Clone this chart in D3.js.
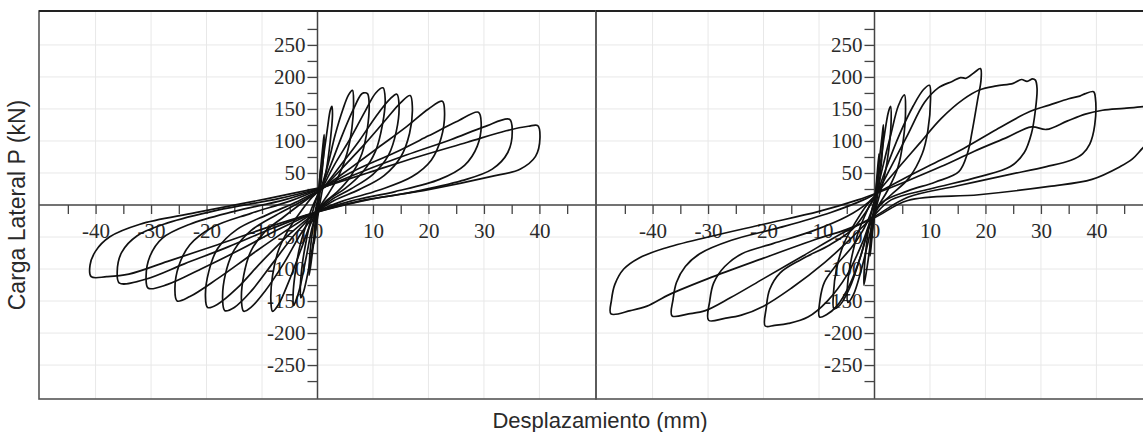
<!DOCTYPE html>
<html lang="es">
<head>
<meta charset="UTF-8">
<title>Carga lateral vs desplazamiento</title>
<style>
body { margin: 0; background: #fff; }
.loop { fill: none; stroke: #111; stroke-width: 1.7; stroke-linejoin: round; }
.grid line { stroke: #e8e8e8; stroke-width: 1; }
</style>
</head>
<body>
<script src="https://cdn.jsdelivr.net/npm/d3@7"></script>
<script>
// tick values (mm and kN)
var xTicks = [-45, -40, -35, -30, -25, -20, -15, -10, -5, 0, 5, 10, 15, 20, 25, 30, 35, 40, 45];
var xLabels = [-40, -30, -20, -10, 0, 10, 20, 30, 40];
var yTicks = [-275, -250, -225, -200, -175, -150, -125, -100, -75, -50, -25, 25, 50, 75, 100, 125, 150, 175, 200, 225, 250, 275];
var yLabels = [-250, -200, -150, -100, -50, 50, 100, 150, 200, 250];
var xGrid = [-40, -30, -20, -10, 10, 20, 30, 40];
var yGrid = [-250, -200, -150, -100, -50, 50, 100, 150, 200, 250];

// loops: [desplazamiento mm, carga kN]
var leftLoops = [
  [[0,0],[0.3,30],[0.6,60],[0.5,35],[0.2,8],[-0.1,-20],[-0.4,-45],[-0.6,-60],[-0.5,-35],[-0.2,-8],[0,0]],
  [[0.1,10],[0.6,60],[1.0,95],[1.2,110],[1.1,80],[0.7,40],[0.2,0],[-0.4,-40],[-1.0,-80],[-1.5,-110],[-1.4,-80],[-0.9,-40],[-0.3,-5],[0.1,10]],
  [[0.3,20],[1.0,70],[1.8,120],[2.3,148],[2.6,154],[2.7,140],[2.3,100],[1.6,55],[0.8,20],[0.2,-10],[-0.6,-50],[-1.6,-100],[-2.5,-135],[-3.0,-145],[-3.1,-130],[-2.7,-90],[-1.9,-50],[-1.0,-15],[-0.2,10],[0.3,20]],
  [[0.5,22],[1.8,60],[3.2,110],[4.6,150],[5.6,172],[6.3,179],[6.5,160],[6.2,120],[5.3,80],[3.8,45],[2.0,18],[0.5,-2],[-0.8,-30],[-2.0,-80],[-3.2,-130],[-4.0,-152],[-4.3,-157],[-4.4,-140],[-4.0,-105],[-3.2,-65],[-2.0,-30],[-0.8,0],[0.5,22]],
  [[0.6,24],[2.5,65],[4.5,110],[6.5,150],[7.8,172],[8.3,175],[9.0,174],[9.3,160],[9.0,120],[8.0,80],[6.0,45],[3.5,20],[1.0,2],[-1.0,-25],[-3.0,-70],[-5.2,-120],[-7.0,-155],[-8.1,-166],[-8.4,-150],[-8.1,-110],[-7.0,-70],[-5.2,-38],[-3.0,-10],[-1.0,12],[0.6,24]],
  [[0.8,25],[3,62],[6,105],[8.5,145],[10.5,175],[11.8,183],[12.2,165],[11.7,125],[10.5,85],[8.2,52],[5,26],[2,8],[-0.5,-15],[-3,-45],[-6,-90],[-9.5,-135],[-12,-160],[-13.3,-166],[-13.7,-150],[-13.3,-110],[-12,-72],[-9.5,-42],[-6,-18],[-2.5,5],[0.8,25]],
  [[1,26],[4,60],[7.5,100],[10.5,138],[13,165],[14.3,173],[14.7,155],[14.2,115],[12.8,78],[10,48],[6,25],[2.5,8],[-0.5,-13],[-4,-45],[-8,-90],[-12,-135],[-15,-160],[-16.7,-165],[-17.1,-148],[-16.6,-108],[-15,-70],[-12,-40],[-7.5,-16],[-3,5],[1,26]],
  [[1,26],[4.5,58],[8.5,95],[12,130],[15,160],[16.7,171],[17.1,152],[16.6,112],[15,75],[12,46],[7.5,24],[3,7],[-0.5,-13],[-5,-45],[-10,-88],[-14.5,-130],[-18,-155],[-19.8,-160],[-20.2,-142],[-19.6,-104],[-18,-68],[-14.5,-38],[-9,-15],[-3.5,6],[1,26]],
  [[1,27],[6,58],[11,90],[16,122],[20,150],[22.5,162],[22.9,145],[22.3,105],[20.5,70],[17,44],[11,23],[4.5,6],[-0.5,-12],[-6,-42],[-12,-78],[-18,-115],[-23,-143],[-25.3,-150],[-25.7,-132],[-25,-95],[-23,-62],[-19,-35],[-12,-13],[-5,6],[1,27]],
  [[1,27],[7,55],[14,82],[20,108],[25,130],[29,145],[29.5,128],[28.8,92],[26.5,62],[22,40],[14,21],[6,6],[-0.5,-12],[-7,-38],[-14,-70],[-21,-100],[-27,-124],[-30.5,-130],[-30.9,-112],[-30.2,-80],[-28,-52],[-23,-30],[-15,-10],[-6,8],[1,27]],
  [[1,27],[8,52],[16,78],[24,102],[30,122],[34.6,134],[35.1,116],[34.3,82],[31.5,56],[26,38],[17,20],[7,5],[-0.5,-12],[-8,-36],[-16,-65],[-24,-92],[-31,-116],[-35.7,-122],[-36.1,-104],[-35.3,-74],[-32.5,-48],[-27,-28],[-18,-8],[-7,10],[1,27]],
  [[1,28],[9,50],[18,75],[27,98],[34,116],[38,123],[39.7,124],[40.1,105],[39.3,76],[36.5,56],[31,44],[20,24],[9,8],[-0.5,-12],[-9,-35],[-18,-62],[-27,-88],[-34,-108],[-38,-112],[-40.8,-112],[-41,-94],[-40,-72],[-37.5,-50],[-32,-30],[-22,-12],[-9,10],[1,28]]
];

// loops
var rightLoops = [
  [[0,0],[0.4,40],[0.8,80],[0.7,50],[0.3,15],[-0.1,-20],[-0.5,-55],[-0.8,-80],[-0.7,-50],[-0.3,-15],[0,0]],
  [[0.1,10],[0.8,65],[1.4,110],[1.6,125],[1.5,95],[1.0,45],[0.3,0],[-0.5,-45],[-1.3,-95],[-1.9,-125],[-1.8,-95],[-1.2,-45],[-0.4,-5],[0.1,10]],
  [[0.2,12],[1.0,60],[1.8,110],[2.5,145],[2.9,154],[3.0,132],[2.6,88],[1.8,45],[0.8,12],[-0.2,-20],[-1.2,-60],[-2.5,-105],[-3.8,-140],[-4.8,-152],[-4.9,-130],[-4.3,-90],[-3.2,-50],[-1.8,-18],[-0.5,5],[0.2,12]],
  [[0.3,15],[1.5,60],[3,112],[4.3,155],[5.4,172],[5.6,150],[5.2,102],[4.2,58],[2.5,25],[0.5,-5],[-1,-35],[-2.5,-80],[-4.5,-130],[-6.3,-157],[-7.3,-162],[-7.4,-138],[-6.8,-98],[-5.5,-60],[-3.5,-28],[-1.2,2],[0.3,15]],
  [[0.5,18],[2,55],[4.5,110],[7,155],[8.8,180],[9.9,187],[10.1,165],[9.6,115],[8.6,80],[6.2,42],[3,16],[0.5,-6],[-1,-35],[-2.5,-80],[-4.5,-125],[-6.8,-158],[-8.6,-171],[-9.9,-175],[-9.8,-147],[-9,-120],[-7,-95],[-4,-65],[-1.5,-30],[0.5,18]],
  [[0.6,20],[3,60],[6,110],[9,160],[11.5,183],[14,193],[15.5,199],[16.5,198],[18,207],[19.1,213],[19.2,195],[18.6,165],[17.6,115],[16.8,82],[15.2,52],[11,36],[6,22],[1.5,5],[-0.5,-20],[-2,-55],[-5,-110],[-8.5,-150],[-12,-175],[-15.5,-185],[-18,-188],[-19.7,-189],[-19.5,-160],[-18.9,-132],[-17,-106],[-13.2,-85],[-8,-62],[-4,-38],[-1.5,-10],[0.6,20]],
  [[0.6,20],[4,55],[8,95],[12,135],[16,165],[19,180],[22,186],[25,190],[26.5,196],[27.5,193],[28.5,197],[29,195],[29.3,182],[29,148],[28.3,112],[27,82],[24.5,60],[18.8,44],[10,25],[3,8],[-0.5,-20],[-4,-50],[-9,-90],[-15,-130],[-20,-158],[-24,-172],[-27,-177],[-29.9,-180],[-29.7,-150],[-29,-122],[-27,-96],[-23.9,-76],[-18.2,-60],[-11,-40],[-5,-18],[-1,5],[0.6,20]],
  [[0.7,20],[5,40],[10,62],[16,88],[22,118],[28,146],[31.5,156],[35,166],[37,170],[38,174],[39.5,177],[39.8,168],[39.7,125],[38.8,95],[37.5,80],[35.4,70],[31,60],[24,47],[15,30],[6,12],[0,-18],[-6,-45],[-13,-80],[-20,-115],[-26,-145],[-30.5,-165],[-33.5,-170],[-36.5,-173],[-36.3,-147],[-35.7,-121],[-34.1,-96],[-31.5,-76],[-25.8,-55],[-17,-35],[-8,-12],[-2,8],[0.7,20]],
  [[0.8,20],[6,38],[12,60],[18,84],[24,106],[28.3,122],[31,118],[34.7,131],[38,142],[41.1,148],[45,151],[48.6,154],[51,157],[52,158],[52.3,140],[51.5,110],[48.6,91],[46.5,72],[44.3,60],[39.2,40],[31.5,29],[18.8,16],[6,7],[0,-20],[-5,-38],[-10,-52],[-20,-83],[-30,-115],[-37,-140],[-41,-158],[-44,-165],[-47.5,-170],[-47.4,-148],[-46.8,-124],[-45.2,-100],[-42.5,-83],[-38,-68],[-30,-50],[-20,-30],[-10,-10],[-3,8],[0.8,20]]
];

var W = 1143, H = 432;
var panelW = 557, plotTop = 11, plotBottom = 399;
var panels = [
  { x0: 39, loops: leftLoops },
  { x0: 596, loops: rightLoops }
];
var serif = "'Liberation Serif', 'DejaVu Serif', 'Times New Roman', serif";
var sans = "'Liberation Sans', Arial, sans-serif";

var svg = d3.select("body").append("svg")
    .attr("width", W)
    .attr("height", H)
    .style("display", "block");

svg.append("rect").attr("width", W).attr("height", H).attr("fill", "#fff");

var y = d3.scaleLinear().domain([-303, 303]).range([plotBottom, plotTop]);

panels.forEach(function(p, i) {
    var x = d3.scaleLinear().domain([-50.2, 50.2]).range([p.x0, p.x0 + panelW]);

    var clipId = "clip" + i;
    svg.append("clipPath").attr("id", clipId)
      .append("rect")
        .attr("x", p.x0).attr("y", plotTop)
        .attr("width", panelW).attr("height", plotBottom - plotTop);

    var g = svg.append("g").attr("clip-path", "url(#" + clipId + ")");

    // grid
    var grid = g.append("g").attr("class", "grid");
    grid.selectAll(".gx").data(xGrid).enter().append("line")
        .attr("x1", function(d) { return x(d); }).attr("x2", function(d) { return x(d); })
        .attr("y1", plotTop).attr("y2", plotBottom);
    grid.selectAll(".gy").data(yGrid).enter().append("line")
        .attr("x1", p.x0).attr("x2", p.x0 + panelW)
        .attr("y1", function(d) { return y(d); }).attr("y2", function(d) { return y(d); });

    // axes through the origin
    var xAxis = g.append("g")
        .attr("transform", "translate(0," + y(0) + ")")
        .call(d3.axisBottom(x).tickValues(xTicks).tickSize(9).tickPadding(9)
            .tickFormat(function(d) { return xLabels.indexOf(d) >= 0 ? d : ""; }));
    var yAxis = g.append("g")
        .attr("transform", "translate(" + x(0) + ",0)")
        .call(d3.axisLeft(y).tickValues(yTicks).tickSize(10).tickPadding(2)
            .tickFormat(function(d) { return yLabels.indexOf(d) >= 0 ? d : ""; }));

    [xAxis, yAxis].forEach(function(a) {
        a.attr("font-family", serif).attr("font-size", 21);
        a.select(".domain").remove();
        a.selectAll(".tick line").attr("stroke", "#444").attr("stroke-width", 1.3);
        a.selectAll(".tick text").attr("fill", "#2a2a2a");
    });

    g.append("line")
        .attr("x1", p.x0).attr("x2", p.x0 + panelW)
        .attr("y1", y(0)).attr("y2", y(0))
        .attr("stroke", "#444").attr("stroke-width", 1.5);
    g.append("line")
        .attr("x1", x(0)).attr("x2", x(0))
        .attr("y1", plotTop).attr("y2", plotBottom)
        .attr("stroke", "#444").attr("stroke-width", 1.5);

    // hysteresis loops
    var line = d3.line()
        .x(function(d) { return x(d[0]); })
        .y(function(d) { return y(d[1]); })
        .curve(d3.curveCatmullRom.alpha(0.5));

    g.selectAll(".loop").data(p.loops).enter().append("path")
        .attr("class", "loop")
        .attr("d", line);

    // frame
    svg.append("rect")
        .attr("x", p.x0).attr("y", plotTop)
        .attr("width", panelW).attr("height", plotBottom - plotTop)
        .attr("fill", "none").attr("stroke", "#555").attr("stroke-width", 1.6);
    svg.append("line")
        .attr("x1", p.x0).attr("x2", p.x0 + panelW)
        .attr("y1", plotTop).attr("y2", plotTop)
        .attr("stroke", "#222").attr("stroke-width", 1.8);
});

svg.append("text")
    .attr("transform", "translate(25," + y(0) + ") rotate(-90)")
    .attr("text-anchor", "middle")
    .attr("font-family", sans)
    .attr("font-size", 23)
    .attr("fill", "#2a2a2a")
    .text("Carga Lateral P (kN)");

svg.append("text")
    .attr("x", 600).attr("y", 428)
    .attr("text-anchor", "middle")
    .attr("font-family", sans)
    .attr("font-size", 22)
    .attr("fill", "#2a2a2a")
    .text("Desplazamiento (mm)");
</script>
</body>
</html>
